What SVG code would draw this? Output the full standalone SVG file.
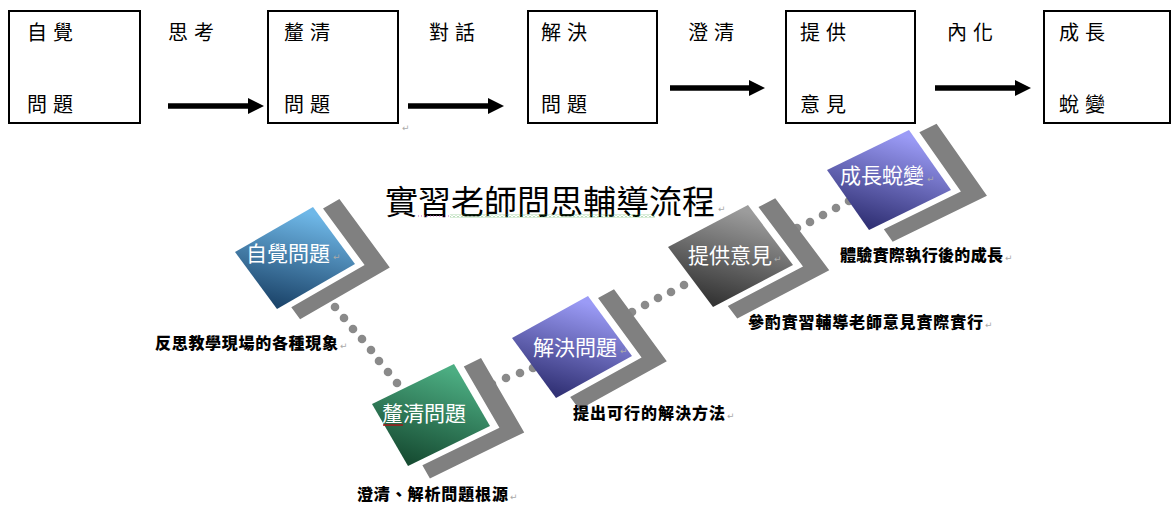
<svg xmlns="http://www.w3.org/2000/svg" width="1172" height="509" viewBox="0 0 1172 509">
<style>
.box{fill:#fff;stroke:#000;stroke-width:2}
.t{font-family:"Noto Sans CJK TC","Noto Sans CJK SC",sans-serif;font-size:20px;letter-spacing:6px;fill:#000}
.arr{stroke:#000;stroke-width:5.5;marker-end:url(#ah)}
.chev{fill:#808080}
.dot{fill:#8a8a8a}
.nt{font-family:"Noto Sans CJK TC","Noto Sans CJK SC",sans-serif;font-size:21px;fill:#fff}
.cap{font-family:"Noto Sans CJK TC","Noto Sans CJK SC",sans-serif;font-size:16px;font-weight:900;fill:#000}
.pm{font-family:"DejaVu Sans",sans-serif;font-size:9px;fill:#aaa}
.title{font-family:"Noto Sans CJK TC","Noto Sans CJK SC",sans-serif;font-size:33px;fill:#000}
</style>
<defs>
<marker id="ah" viewBox="0 0 16 16" refX="0" refY="8" markerWidth="16" markerHeight="16" markerUnits="userSpaceOnUse" orient="auto"><path d="M0,0 L16,8 L0,16 Z" fill="#000"/></marker>
<path id="sq" d="M0,0 H100 V100 H0 Z"/>
<path id="chev" d="M108,9 H129 V129 H14 V108 H108 Z"/>
<linearGradient id="gBlue" x1="0" y1="0.9" x2="1" y2="0.15"><stop offset="0" stop-color="#1d466c"/><stop offset="1" stop-color="#6fb8e8"/></linearGradient>
<linearGradient id="gGreen" x1="0" y1="0.9" x2="1" y2="0.15"><stop offset="0" stop-color="#174d33"/><stop offset="1" stop-color="#4cad82"/></linearGradient>
<linearGradient id="gPurple" x1="0" y1="0.9" x2="1" y2="0.15"><stop offset="0" stop-color="#323276"/><stop offset="1" stop-color="#9b9bf6"/></linearGradient>
<linearGradient id="gGray" x1="0" y1="0.9" x2="1" y2="0.15"><stop offset="0" stop-color="#353535"/><stop offset="1" stop-color="#9c9c9c"/></linearGradient>
<pattern id="wavy" width="4" height="3" patternUnits="userSpaceOnUse"><path d="M0,2.5 L2,0.5 L4,2.5" stroke="#3fa33f" stroke-width="0.8" fill="none"/></pattern>
</defs>

<g id="top-row">
<g id="box1"><rect class="box" x="9" y="11" width="131" height="112"/><text class="t" x="27" y="40">自覺</text><text class="t" x="27" y="112">問題</text></g>
<g id="box2"><rect class="box" x="268" y="11" width="130" height="112"/><text class="t" x="284" y="40">釐清</text><text class="t" x="284" y="112">問題</text></g>
<g id="box3"><rect class="box" x="528" y="11" width="129" height="112"/><text class="t" x="541" y="40">解決</text><text class="t" x="541" y="112">問題</text></g>
<g id="box4"><rect class="box" x="786" y="11" width="129" height="112"/><text class="t" x="800" y="40">提供</text><text class="t" x="800" y="112">意見</text></g>
<g id="box5"><rect class="box" x="1044" y="11" width="126" height="112"/><text class="t" x="1059" y="40">成長</text><text class="t" x="1059" y="112">蛻變</text></g>
</g>

<g id="connectors">
<line class="arr" x1="168" y1="106" x2="248" y2="106"/>
<line class="arr" x1="408" y1="106" x2="488" y2="106"/>
<line class="arr" x1="670" y1="88" x2="749" y2="88"/>
<line class="arr" x1="935" y1="88" x2="1015" y2="88"/>
<text class="t" x="168" y="40">思考</text>
<text class="t" x="429" y="40">對話</text>
<text class="t" x="688" y="40">澄清</text>
<text class="t" x="947" y="40">內化</text>
<g id="dots">
<circle class="dot" cx="335" cy="307" r="4.3"/><circle class="dot" cx="344" cy="318" r="4.3"/><circle class="dot" cx="353" cy="329" r="4.3"/><circle class="dot" cx="362" cy="339" r="4.3"/><circle class="dot" cx="371" cy="350" r="4.3"/><circle class="dot" cx="379" cy="361" r="4.3"/><circle class="dot" cx="388" cy="372" r="4.3"/><circle class="dot" cx="397" cy="383" r="4.3"/>
<circle class="dot" cx="492" cy="384" r="4.3"/><circle class="dot" cx="506" cy="378" r="4.3"/><circle class="dot" cx="520" cy="373" r="4.3"/><circle class="dot" cx="533" cy="368" r="4.3"/>
<circle class="dot" cx="632" cy="312" r="4.3"/><circle class="dot" cx="645" cy="305" r="4.3"/><circle class="dot" cx="658" cy="298" r="4.3"/><circle class="dot" cx="671" cy="292" r="4.3"/><circle class="dot" cx="684" cy="285" r="4.3"/>
<circle class="dot" cx="797" cy="228" r="4.3"/><circle class="dot" cx="810" cy="222" r="4.3"/><circle class="dot" cx="823" cy="215" r="4.3"/><circle class="dot" cx="836" cy="208" r="4.3"/><circle class="dot" cx="849" cy="201" r="4.3"/>
</g>
</g>

<text class="pm" x="402" y="131">↵</text>

<g id="title">
<text class="title" x="385" y="214">實習老師問思輔導流程</text>
<text class="pm" x="718" y="212">↵</text>
<line x1="418" y1="216" x2="450" y2="216" stroke="#c060c0" stroke-width="1" stroke-dasharray="1 2"/>
<rect x="450" y="214.5" width="205" height="3" fill="url(#wavy)"/>
</g>

<g id="node1">
<use href="#chev" class="chev" transform="matrix(0.78,-0.45,0.42,0.57,235,252)"/>
<use href="#sq" fill="url(#gBlue)" transform="matrix(0.78,-0.45,0.42,0.57,235,252)"/>
<text class="nt" x="246" y="261">自覺問題</text><text class="pm" x="333" y="260">↵</text>
<text class="cap" x="155" y="349" textLength="183">反思教學現場的各種現象</text><text class="pm" x="340" y="349">↵</text>
</g>

<g id="node2">
<use href="#chev" class="chev" transform="matrix(0.82,-0.40,0.36,0.62,372,404)"/>
<use href="#sq" fill="url(#gGreen)" transform="matrix(0.82,-0.40,0.36,0.62,372,404)"/>
<text class="nt" x="382" y="421">釐清問題</text>
<line x1="383" y1="425" x2="403" y2="425" stroke="#a01818" stroke-width="1.5"/>
<text class="cap" x="357" y="500" textLength="151">澄清、解析問題根源</text><text class="pm" x="510" y="500">↵</text>
</g>

<g id="node3">
<use href="#chev" class="chev" transform="matrix(0.76,-0.42,0.44,0.60,512,338)"/>
<use href="#sq" fill="url(#gPurple)" transform="matrix(0.76,-0.42,0.44,0.60,512,338)"/>
<text class="nt" x="533" y="355">解決問題</text><text class="pm" x="620" y="354">↵</text>
<text class="cap" x="573" y="419" textLength="152">提出可行的解決方法</text><text class="pm" x="727" y="419">↵</text>
</g>

<g id="node4">
<use href="#chev" class="chev" transform="matrix(0.80,-0.42,0.45,0.60,668,247)"/>
<use href="#sq" fill="url(#gGray)" transform="matrix(0.80,-0.42,0.45,0.60,668,247)"/>
<text class="nt" x="688" y="263">提供意見</text><text class="pm" x="774" y="262">↵</text>
<text class="cap" x="748" y="328" textLength="235">參酌實習輔導老師意見實際實行</text><text class="pm" x="985" y="328">↵</text>
</g>

<g id="node5">
<use href="#chev" class="chev" transform="matrix(0.82,-0.40,0.42,0.60,827,170)"/>
<use href="#sq" fill="url(#gPurple)" transform="matrix(0.82,-0.40,0.42,0.60,827,170)"/>
<text class="nt" x="840" y="183">成長蛻變</text><text class="pm" x="927" y="182">↵</text>
<text class="cap" x="840" y="261" textLength="163">體驗實際執行後的成長</text><text class="pm" x="1005" y="261">↵</text>
</g>
</svg>
